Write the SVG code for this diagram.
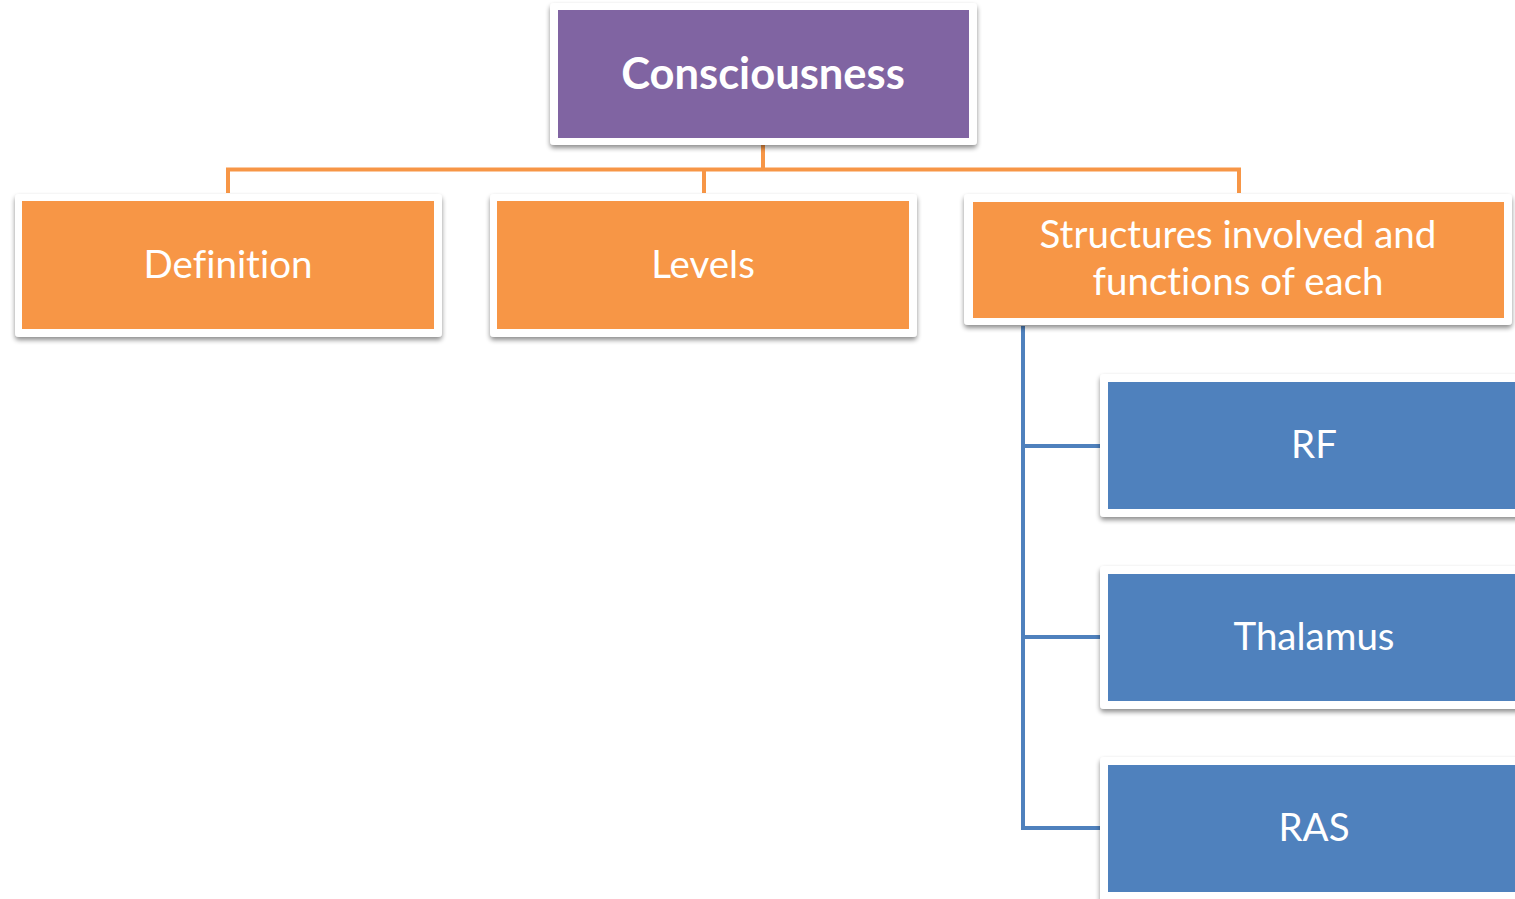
<svg xmlns="http://www.w3.org/2000/svg" width="1515" height="899" viewBox="0 0 1515 899">
<style>
.frame{fill:#ffffff;filter:url(#sh)}
.purple{fill:#8064A2}
.orange{fill:#F79646}
.blue{fill:#4F81BD}
.lbl{font-family:Lato,"Liberation Sans",sans-serif;fill:#ffffff;text-anchor:middle;font-size:38.5px;font-variant-ligatures:none}
.title{font-weight:bold;font-size:43.5px}
.oc{stroke:#F79646;stroke-width:4;fill:none}
.bc{stroke:#4F81BD;stroke-width:4;fill:none}
</style>
<defs>
<filter id="sh" x="-5%" y="-10%" width="110%" height="130%">
<feGaussianBlur in="SourceAlpha" stdDeviation="2.5"/>
<feOffset dx="0" dy="3" result="b"/>
<feComponentTransfer><feFuncA type="linear" slope="0.45"/></feComponentTransfer>
<feMerge><feMergeNode/><feMergeNode in="SourceGraphic"/></feMerge>
</filter>
</defs>
<rect width="1515" height="899" fill="#ffffff"/>
<g id="connectors">
<path class="oc" d="M763 145 V169.5 M228 193 V169.5 H1239 V193 M704 169.5 V193"/>
<path class="bc" d="M1023 326 V828 H1100 M1023 446 H1100 M1023 637 H1100"/>
</g>
<g id="consciousness">
<rect class="frame" x="550" y="3" width="427" height="142" rx="4"/>
<rect class="purple" x="558" y="10" width="411" height="128"/>
<text class="lbl title" x="763" y="89">Consciousness</text>
</g>
<g id="definition">
<rect class="frame" x="15" y="194" width="427" height="143" rx="4"/>
<rect class="orange" x="22" y="201" width="412" height="128"/>
<text class="lbl" x="228" y="278">Definition</text>
</g>
<g id="levels">
<rect class="frame" x="490" y="194" width="427" height="143" rx="4"/>
<rect class="orange" x="497" y="201" width="412" height="128"/>
<text class="lbl" x="703" y="278">Levels</text>
</g>
<g id="structures">
<rect class="frame" x="964" y="194" width="548" height="131" rx="4"/>
<rect class="orange" x="973" y="202" width="531" height="116"/>
<text class="lbl" x="1238" y="248">Structures involved and</text>
<text class="lbl" x="1238" y="295">functions of each</text>
</g>
<g id="rf">
<rect class="frame" x="1100" y="374" width="430" height="143" rx="4"/>
<rect class="blue" x="1108" y="382" width="420" height="127"/>
<text class="lbl" x="1314" y="458">RF</text>
</g>
<g id="thalamus">
<rect class="frame" x="1100" y="566" width="430" height="143" rx="4"/>
<rect class="blue" x="1108" y="574" width="420" height="127"/>
<text class="lbl" x="1314" y="650">Thalamus</text>
</g>
<g id="ras">
<rect class="frame" x="1100" y="757" width="430" height="160" rx="4"/>
<rect class="blue" x="1108" y="765" width="420" height="127"/>
<text class="lbl" x="1314" y="841">RAS</text>
</g>
</svg>
